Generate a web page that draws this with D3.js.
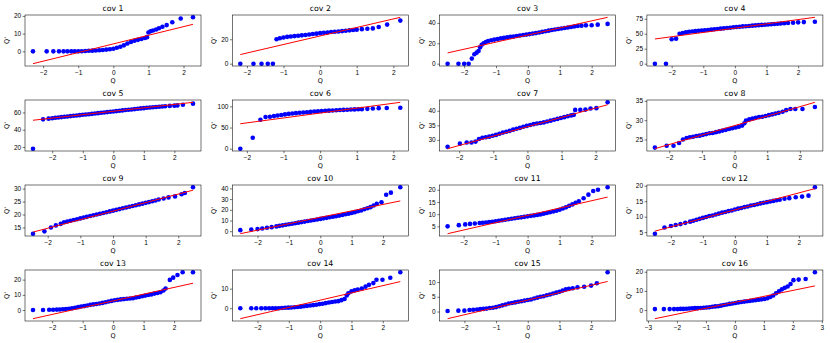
<!DOCTYPE html>
<html>
<head>
<meta charset="utf-8">
<script src="https://cdn.jsdelivr.net/npm/d3@7"></script>
<style>
  body { margin: 0; background: #fff; }
  svg { font-family: "DejaVu Sans", sans-serif; }
</style>
</head>
<body>
<div id="chart"></div>
<script>
const cov1 = [[-2.29,0],[-1.9,0],[-1.71,0],[-1.55,0],[-1.42,0],[-1.31,0],[-1.2,0],[-1.1,0],[-1.0,0],[-0.9,0.1],[-0.8,0.2],[-0.7,0.3],[-0.6,0.4],[-0.5,0.5],[-0.4,0.6],[-0.3,0.8],[-0.2,1.0],[-0.1,1.2],[0,1.5],[0.1,2.0],[0.2,2.6],[0.3,3.4],[0.4,4.4],[0.5,5.3],[0.6,6.0],[0.7,6.5],[0.8,7.0],[0.9,7.5],[0.96,8.0],[1.0,10.6],[1.06,11.3],[1.13,11.8],[1.22,12.3],[1.3,13.0],[1.4,13.9],[1.52,14.8],[1.68,16.4],[1.92,18.5],[2.27,19.2]];
const cov2 = [[-2.18,0],[-1.82,0],[-1.6,0],[-1.43,0],[-1.29,0],[-1.19,20],[-1.1,20.8],[-1.0,21.5],[-0.9,22],[-0.8,22.3],[-0.7,22.6],[-0.6,22.9],[-0.5,23.2],[-0.4,23.5],[-0.3,23.9],[-0.2,24.3],[-0.1,24.6],[0,25],[0.1,25.3],[0.2,25.6],[0.3,25.9],[0.4,26.2],[0.5,26.4],[0.6,26.7],[0.7,27],[0.8,27.3],[0.9,27.6],[1.0,27.9],[1.14,28.3],[1.29,28.6],[1.44,28.9],[1.6,30],[1.83,32],[2.19,35.3]];
const cov3 = [[-2.52,0],[-2.18,0],[-2.0,0],[-1.86,0],[-1.76,5],[-1.68,9.2],[-1.61,10.8],[-1.55,12.5],[-1.5,16],[-1.45,18.5],[-1.39,20],[-1.32,21.3],[-1.25,22.2],[-1.15,23],[-1.05,23.6],[-0.95,24.2],[-0.85,24.8],[-0.75,25.3],[-0.65,25.8],[-0.55,26.3],[-0.45,26.7],[-0.35,27.2],[-0.25,27.6],[-0.15,28.1],[-0.05,28.5],[0.05,29],[0.15,29.5],[0.25,30],[0.35,30.6],[0.45,31.2],[0.55,31.8],[0.65,32.4],[0.75,33],[0.85,33.5],[0.95,34],[1.05,34.5],[1.15,35],[1.25,35.5],[1.35,36],[1.45,36.4],[1.56,36.9],[1.68,37.3],[1.82,37.6],[2.0,37.7],[2.19,38.3],[2.5,39]];
const cov4 = [[-2.53,0],[-2.18,0],[-2.0,40.7],[-1.86,41.8],[-1.75,50],[-1.65,51.2],[-1.55,52.2],[-1.45,53.2],[-1.35,53.8],[-1.25,54.3],[-1.15,54.8],[-1.05,55.2],[-0.95,55.7],[-0.85,56.3],[-0.75,56.8],[-0.65,57.4],[-0.55,57.9],[-0.45,58.5],[-0.35,59],[-0.25,59.6],[-0.15,60.1],[-0.05,60.7],[0.05,61.2],[0.15,61.7],[0.25,62.2],[0.35,62.6],[0.45,63],[0.55,63.5],[0.65,63.9],[0.75,64.3],[0.85,64.7],[0.95,65.1],[1.05,65.5],[1.15,65.9],[1.25,66.3],[1.35,66.7],[1.45,67.1],[1.56,67.5],[1.68,67.9],[1.84,68.4],[2.0,69],[2.18,69.4],[2.53,70]];
const cov5 = [[-2.63,18],[-2.3,52],[-2.12,52.8],[-2.0,53.3],[-1.9,53.8],[-1.8,54.2],[-1.7,54.6],[-1.6,55],[-1.5,55.4],[-1.4,55.8],[-1.3,56.1],[-1.2,56.5],[-1.1,56.9],[-1.0,57.3],[-0.9,57.7],[-0.8,58],[-0.7,58.4],[-0.6,58.8],[-0.5,59.2],[-0.4,59.6],[-0.3,60],[-0.2,60.4],[-0.1,60.8],[0,61.2],[0.1,61.6],[0.2,62],[0.3,62.4],[0.4,62.8],[0.5,63.1],[0.6,63.5],[0.7,63.9],[0.8,64.3],[0.9,64.7],[1.0,65],[1.1,65.4],[1.2,65.7],[1.3,66],[1.4,66.3],[1.5,66.6],[1.6,66.9],[1.7,67.2],[1.85,67.6],[2.0,67.9],[2.1,68.2],[2.28,69],[2.61,70.2]];
const cov6 = [[-2.18,0],[-1.84,26],[-1.63,68.5],[-1.49,75],[-1.37,75.5],[-1.26,77],[-1.16,78.5],[-1.06,79.8],[-0.96,81],[-0.86,82.2],[-0.76,83.2],[-0.66,84],[-0.56,84.8],[-0.46,85.6],[-0.36,86.3],[-0.26,87],[-0.16,87.7],[-0.06,88.3],[0.04,88.9],[0.14,89.4],[0.24,89.9],[0.34,90.4],[0.44,90.9],[0.54,91.3],[0.64,91.7],[0.74,92.1],[0.84,92.5],[0.94,92.9],[1.04,93.2],[1.14,93.5],[1.29,94.2],[1.44,95],[1.6,95.8],[1.82,96],[2.19,96.8]];
const cov7 = [[-2.34,27.6],[-1.98,28.7],[-1.78,29.1],[-1.64,29.1],[-1.52,29.4],[-1.42,30.3],[-1.32,30.7],[-1.22,30.9],[-1.12,31.1],[-1.02,31.4],[-0.92,31.7],[-0.82,32.1],[-0.72,32.5],[-0.62,32.8],[-0.52,33.1],[-0.42,33.5],[-0.32,33.8],[-0.22,34.1],[-0.12,34.5],[-0.02,34.8],[0.08,35.1],[0.18,35.4],[0.28,35.6],[0.38,35.8],[0.48,36],[0.58,36.3],[0.68,36.6],[0.78,36.9],[0.88,37.2],[0.98,37.5],[1.08,37.8],[1.18,38.1],[1.28,38.4],[1.36,38.6],[1.4,40.3],[1.55,40.3],[1.7,40.4],[1.85,40.8],[2.02,40.9],[2.35,42.9]];
const cov8 = [[-2.44,22.9],[-2.08,23.4],[-1.87,23.4],[-1.7,24.1],[-1.58,25],[-1.47,25.4],[-1.37,25.6],[-1.27,25.7],[-1.17,25.9],[-1.07,26],[-0.97,26.2],[-0.87,26.4],[-0.77,26.6],[-0.67,26.7],[-0.57,26.9],[-0.47,27.1],[-0.37,27.3],[-0.27,27.5],[-0.17,27.7],[-0.07,27.9],[0.03,28.1],[0.13,28.3],[0.23,28.6],[0.3,29.2],[0.35,29.9],[0.45,30.2],[0.55,30.4],[0.65,30.6],[0.75,30.8],[0.85,30.9],[0.95,31.1],[1.05,31.3],[1.15,31.5],[1.25,31.7],[1.35,31.9],[1.47,32.2],[1.58,32.6],[1.71,32.9],[1.86,32.9],[2.08,32.9],[2.46,33.4]];
const cov9 = [[-2.45,12.6],[-2.1,13.5],[-1.9,15],[-1.75,15.8],[-1.6,16.4],[-1.5,17],[-1.4,17.3],[-1.3,17.6],[-1.2,17.9],[-1.1,18.2],[-1.0,18.5],[-0.9,18.8],[-0.8,19.1],[-0.7,19.4],[-0.6,19.7],[-0.5,20],[-0.4,20.3],[-0.3,20.6],[-0.2,20.9],[-0.1,21.2],[0,21.5],[0.1,21.8],[0.2,22.1],[0.3,22.4],[0.4,22.7],[0.5,23],[0.6,23.3],[0.7,23.6],[0.8,23.9],[0.9,24.2],[1.0,24.5],[1.1,24.8],[1.2,25.1],[1.3,25.4],[1.4,25.8],[1.55,26.2],[1.7,26.6],[1.9,27],[2.1,27.8],[2.2,28.3],[2.45,30.5]];
const cov10 = [[-2.55,1],[-2.2,1.5],[-2.0,2],[-1.85,2.6],[-1.7,3.2],[-1.55,3.8],[-1.4,4.5],[-1.3,5],[-1.2,5.5],[-1.1,6],[-1.0,6.5],[-0.9,7],[-0.8,7.5],[-0.7,8],[-0.6,8.5],[-0.5,9],[-0.4,9.5],[-0.3,10],[-0.2,10.5],[-0.1,11],[0,11.5],[0.1,12],[0.2,12.5],[0.3,13],[0.4,13.5],[0.5,14],[0.6,14.6],[0.7,15.2],[0.8,15.8],[0.9,16.4],[1.0,17],[1.1,17.8],[1.2,18.6],[1.3,19.4],[1.4,20.5],[1.5,21.5],[1.6,22.5],[1.7,24],[1.8,25.5],[1.95,27],[2.1,34],[2.25,36],[2.55,41]];
const cov11 = [[-2.5,5],[-2.15,5.5],[-1.95,5.8],[-1.8,6],[-1.65,6.2],[-1.5,6.4],[-1.4,6.5],[-1.3,6.6],[-1.2,6.8],[-1.1,6.9],[-1.0,7.1],[-0.9,7.3],[-0.8,7.5],[-0.7,7.7],[-0.6,7.9],[-0.5,8.1],[-0.4,8.3],[-0.3,8.5],[-0.2,8.7],[-0.1,8.9],[0,9.1],[0.1,9.3],[0.2,9.5],[0.3,9.7],[0.4,9.9],[0.5,10.2],[0.6,10.5],[0.7,10.8],[0.8,11.1],[0.9,11.4],[1.0,11.8],[1.1,12.3],[1.2,12.8],[1.3,13.4],[1.4,14],[1.5,14.7],[1.6,15.3],[1.75,16.5],[1.9,18],[2.05,19.5],[2.2,20],[2.5,21]];
const cov12 = [[-2.5,4.5],[-2.2,6.5],[-2.0,7],[-1.85,7.3],[-1.7,7.6],[-1.55,8],[-1.4,8.4],[-1.3,8.7],[-1.2,9],[-1.1,9.3],[-1.0,9.6],[-0.9,9.9],[-0.8,10.2],[-0.7,10.4],[-0.6,10.7],[-0.5,11],[-0.4,11.3],[-0.3,11.5],[-0.2,11.8],[-0.1,12],[0,12.3],[0.1,12.6],[0.2,12.8],[0.3,13.1],[0.4,13.3],[0.5,13.6],[0.6,13.8],[0.7,14],[0.8,14.3],[0.9,14.5],[1.0,14.7],[1.1,14.9],[1.2,15.1],[1.3,15.3],[1.4,15.5],[1.55,15.8],[1.7,16],[1.9,16.3],[2.1,16.5],[2.3,16.8],[2.5,19.5]];
const cov13 = [[-2.63,0],[-2.3,0],[-2.1,0.2],[-1.97,0.2],[-1.85,0.3],[-1.75,0.4],[-1.65,0.5],[-1.55,0.7],[-1.45,0.9],[-1.35,1.2],[-1.25,1.5],[-1.15,1.9],[-1.05,2.3],[-0.95,2.6],[-0.85,3],[-0.75,3.4],[-0.65,3.7],[-0.55,4],[-0.45,4.3],[-0.35,4.7],[-0.25,5.1],[-0.15,5.6],[-0.05,6],[0.05,6.4],[0.15,6.7],[0.25,7],[0.35,7.2],[0.45,7.4],[0.55,7.6],[0.65,7.8],[0.75,8.2],[0.85,8.6],[0.95,9.1],[1.05,9.5],[1.15,9.9],[1.25,10.3],[1.35,10.8],[1.45,11.2],[1.55,11.7],[1.65,12.8],[1.72,14.2],[1.86,19.8],[1.97,21.3],[2.11,23],[2.28,24.8],[2.62,24.8]];
const cov14 = [[-2.55,0],[-2.2,0],[-2.04,0],[-1.88,0],[-1.75,0],[-1.63,0],[-1.52,0],[-1.42,0],[-1.32,0],[-1.22,0.1],[-1.12,0.2],[-1.02,0.3],[-0.92,0.4],[-0.82,0.5],[-0.72,0.6],[-0.62,0.8],[-0.52,1],[-0.42,1.2],[-0.32,1.4],[-0.22,1.6],[-0.12,1.8],[-0.02,2.1],[0.08,2.3],[0.18,2.6],[0.28,2.9],[0.38,3.2],[0.48,3.4],[0.58,3.6],[0.68,4.1],[0.78,4.7],[0.85,6.5],[0.9,7.6],[1.0,8.6],[1.1,9.1],[1.2,9.5],[1.33,10],[1.45,11],[1.56,11.9],[1.7,12.8],[1.8,14.5],[1.99,14.5],[2.24,15.5],[2.56,18.3]];
const cov15 = [[-2.53,0.2],[-2.19,0.3],[-2.0,0.3],[-1.84,0.5],[-1.72,0.6],[-1.6,0.7],[-1.5,0.8],[-1.4,0.9],[-1.3,1],[-1.2,1.2],[-1.1,1.3],[-1.0,1.5],[-0.9,1.8],[-0.8,2.1],[-0.7,2.4],[-0.6,2.7],[-0.5,2.9],[-0.4,3.1],[-0.3,3.3],[-0.2,3.5],[-0.1,3.7],[0,3.9],[0.1,4.1],[0.2,4.4],[0.3,4.7],[0.4,5],[0.5,5.2],[0.6,5.5],[0.7,5.8],[0.8,6.1],[0.9,6.4],[1.0,6.7],[1.1,7.1],[1.2,7.5],[1.3,7.7],[1.42,7.9],[1.57,8.2],[1.78,8.4],[2.0,8.8],[2.18,9.6],[2.52,13.3]];
const cov16 = [[-2.76,0.5],[-2.45,0.5],[-2.25,0.5],[-2.1,0.5],[-1.98,0.5],[-1.88,0.6],[-1.78,0.6],[-1.68,0.7],[-1.58,0.8],[-1.48,0.9],[-1.38,1],[-1.28,1],[-1.18,1.1],[-1.08,1.2],[-0.98,1.3],[-0.88,1.5],[-0.78,1.7],[-0.68,1.9],[-0.58,2],[-0.48,2.3],[-0.38,2.6],[-0.28,2.9],[-0.18,3.2],[-0.08,3.4],[0.02,3.7],[0.12,4],[0.22,4.2],[0.32,4.4],[0.42,4.6],[0.52,4.8],[0.62,5],[0.72,5.2],[0.82,5.4],[0.92,5.6],[1.02,5.8],[1.12,6.2],[1.22,6.8],[1.32,7.6],[1.42,8.8],[1.52,9.8],[1.62,10.8],[1.72,11.6],[1.82,12.3],[1.92,13.6],[2.02,15.6],[2.2,15.9],[2.44,16.2],[2.76,19.7]];

const samples = [cov1, cov2, cov3, cov4, cov5, cov6, cov7, cov8, cov9, cov10, cov11, cov12, cov13, cov14, cov15, cov16];
const titles = samples.map((_, i) => `cov ${i + 1}`);

// fitted reference line (red)
const fitSlope = [4.87, 6.98, 6.95, 7.15, 3.97, 11.6, 3.22, 2.45, 3.3, 6.0, 3.0, 2.75, 4.44, 3.7, 2.5, 3.1];
const fitIntercept = [4.2, 22.7, 28.1, 59.3, 61.4, 84.2, 34.5, 28.6, 21.3, 13.0, 9.5, 12.2, 6.0, 4.1, 3.9, 4.05];

const xTicks = [[-2,-1,0,1,2],[-2,-1,0,1,2],[-2,-1,0,1,2],[-2,-1,0,1,2],
                [-2,-1,0,1,2],[-2,-1,0,1,2],[-2,-1,0,1,2],[-2,-1,0,1,2],
                [-2,-1,0,1,2],[-2,-1,0,1,2],[-2,-1,0,1,2],[-2,-1,0,1,2],
                [-2,-1,0,1,2],[-2,-1,0,1,2],[-2,-1,0,1,2],[-3,-2,-1,0,1,2,3]];
const yTicks = [[0,10,20],[0,20,40],[0,20,40],[0,25,50,75],
                [20,40,60],[0,50,100],[30,35,40],[25,30,35],
                [15,20,25,30],[0,10,20,30,40],[5,10,15,20],[5,10,15,20],
                [0,10,20],[0,10],[0,5,10],[0,10,20]];

const width = 830, height = 343;
const cols = 4;
const left0 = 25, colStep = 207.3, top0 = 15, rowStep = 85;
const pw = 176, ph = 51;

const svg = d3.select('#chart').append('svg')
    .attr('width', width)
    .attr('height', height);

const fmt = d => d < 0 ? '\u2212' + Math.abs(d) : String(d);

samples.forEach((pts, i) => {
    const col = i % cols, row = Math.floor(i / cols);
    const g = svg.append('g')
        .attr('transform', `translate(${left0 + col * colStep},${top0 + row * rowStep})`);

    const xExt = d3.extent(pts, d => d[0]);
    const lineY = xExt.map(x => fitSlope[i] * x + fitIntercept[i]);
    const yExt = d3.extent(pts.map(d => d[1]).concat(lineY));
    const xPad = (xExt[1] - xExt[0]) * 0.05, yPad = (yExt[1] - yExt[0]) * 0.05;

    const x = d3.scaleLinear().domain([xExt[0] - xPad, xExt[1] + xPad]).range([0, pw]);
    const y = d3.scaleLinear().domain([yExt[0] - yPad, yExt[1] + yPad]).range([ph, 0]);

    const xAxis = g.append('g')
        .attr('transform', `translate(0,${ph})`)
        .call(d3.axisBottom(x).tickValues(xTicks[i]).tickSize(2.3).tickPadding(1.6).tickFormat(fmt));
    const yAxis = g.append('g')
        .call(d3.axisLeft(y).tickValues(yTicks[i].filter(t => t >= y.domain()[0] && t <= y.domain()[1]))
            .tickSize(2.3).tickPadding(1.6).tickFormat(fmt));
    [xAxis, yAxis].forEach(a => {
        a.select('.domain').remove();
        a.selectAll('line').attr('stroke', '#000').attr('stroke-width', 0.55);
        a.selectAll('text').attr('font-size', 6.5).attr('fill', '#000');
    });

    g.append('g').selectAll('circle')
        .data(pts)
        .enter()
        .append('circle')
        .attr('cx', d => x(d[0]))
        .attr('cy', d => y(d[1]))
        .attr('r', 2.3)
        .attr('fill', '#0000ff');

    g.append('line')
        .attr('x1', x(xExt[0])).attr('y1', y(lineY[0]))
        .attr('x2', x(xExt[1])).attr('y2', y(lineY[1]))
        .attr('stroke', '#ff0000')
        .attr('stroke-width', 1);

    g.append('rect')
        .attr('width', pw).attr('height', ph)
        .attr('fill', 'none')
        .attr('stroke', '#000')
        .attr('stroke-width', 0.55);

    g.append('text')
        .attr('x', pw / 2).attr('y', -4)
        .attr('text-anchor', 'middle')
        .attr('font-size', 7.8)
        .text(titles[i]);

    g.append('text')
        .attr('x', pw / 2).attr('y', ph + 17)
        .attr('text-anchor', 'middle')
        .attr('font-size', 6.5)
        .text('Q');

    g.append('text')
        .attr('transform', `translate(${-16},${ph / 2}) rotate(-90)`)
        .attr('text-anchor', 'middle')
        .attr('font-size', 6.5)
        .text("Q'");
});
</script>
</body>
</html>
